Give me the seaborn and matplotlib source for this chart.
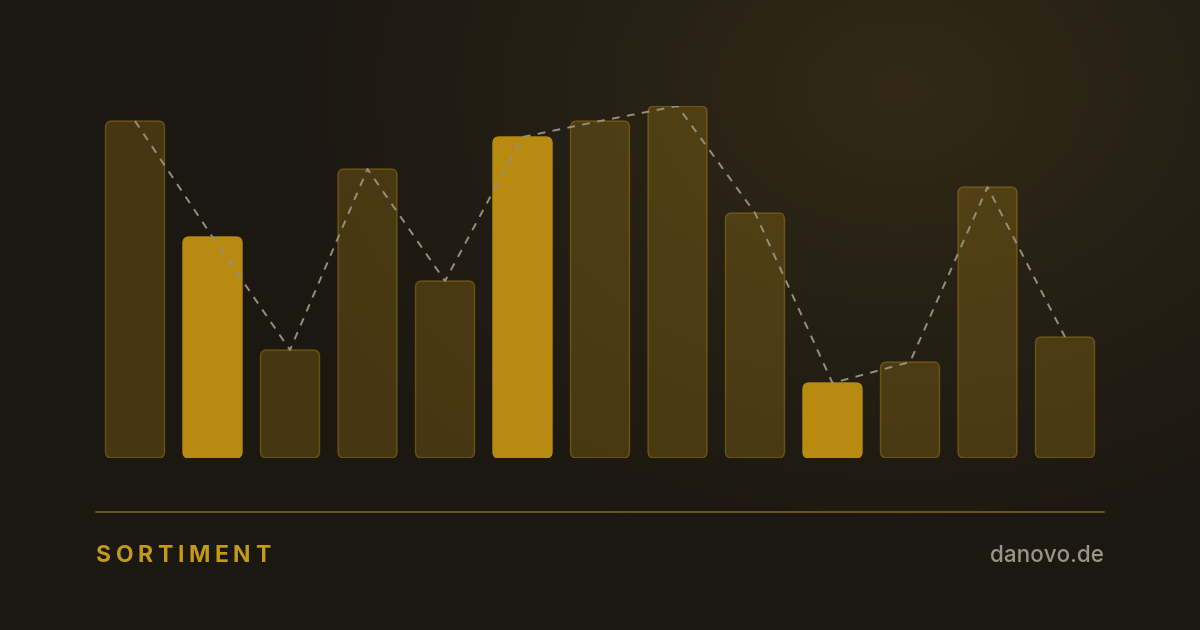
import numpy as np
import pandas as pd
import matplotlib
matplotlib.use("Agg")
import matplotlib.pyplot as plt
import seaborn as sns
from matplotlib.patches import FancyBboxPatch
from matplotlib.colors import to_rgba

# ---- data ----
categories = [f"K{i}" for i in range(1, 14)]
values = [337, 221, 108, 289, 177, 321, 337, 352, 245, 75, 96, 271, 121]
highlight = [False, True, False, False, False, True, False, False, False, True, False, False, False]
title_text = "SORTIMENT"
brand_text = "danovo.de"

W, H = 1200, 630
sns.set_theme(style="white")
plt.rcParams['font.family'] = ['Inter', 'DejaVu Sans']

fig = plt.figure(figsize=(W / 100, H / 100), dpi=100)

# ---- background gradient ----
bg = fig.add_axes([0, 0, 1, 1])
yy, xx = np.mgrid[0:H, 0:W]
c0 = np.array([0x1b, 0x18, 0x12]) / 255.0
c1 = np.array([0x32, 0x2a, 0x17]) / 255.0
d = np.sqrt(((xx - 900) / 700.0) ** 2 + ((yy - 90) / 520.0) ** 2)
t = np.clip(1 - d, 0, 1) ** 1.3
img = c0[None, None, :] * (1 - t[..., None]) + c1[None, None, :] * t[..., None]
bg.imshow(img, extent=[0, W, H, 0], aspect="auto")
bg.set_xlim(0, W)
bg.set_ylim(H, 0)
bg.axis("off")

# separator line and texts
bg.plot([96, 1104], [512, 512], color="#6e5a22", lw=1.3)

# letter-spaced title
renderer = fig.canvas.get_renderer()
xpos = 96.0
tracking = 4.6
for ch in title_text:
    tx = bg.text(xpos, 556, ch, color="#c49a1a", fontsize=16.5, fontweight="bold",
                 ha="left", va="center")
    bb = tx.get_window_extent(renderer=renderer)
    xpos += bb.width + tracking

bg.text(1104, 556, brand_text, color="#9b9586", fontsize=16.2, ha="right",
        va="center", fontweight="medium")

# ---- chart axes ----
n = len(values)
pitch = 77.5
left_px = 135 - pitch / 2
right_px = left_px + pitch * n
top_px, bot_px = 106, 458
ax = fig.add_axes([left_px / W, 1 - bot_px / H, (right_px - left_px) / W, (bot_px - top_px) / H])
ax.patch.set_alpha(0)

df = pd.DataFrame({"cat": categories, "val": values, "hl": highlight})
sns.barplot(data=df, x="cat", y="val", ax=ax, width=59 / pitch, color="#4a3a15")
ax.set_xlim(-0.5, n - 0.5)
ax.set_ylim(0, max(values))

# replace bars with rounded ones
for p, hl in zip(list(ax.patches), highlight):
    x, y = p.get_x(), p.get_y()
    w, h = p.get_width(), p.get_height()
    p.remove()
    if hl:
        fc, ec = to_rgba("#b88b10", 1.0), to_rgba("#b88b10", 1.0)
    else:
        fc, ec = to_rgba("#b98a14", 0.28), to_rgba("#b98a14", 0.42)
    rp = FancyBboxPatch((x, y), w, h,
                        boxstyle="round,pad=0,rounding_size=0.08",
                        mutation_aspect=max(values) / (bot_px - top_px) * pitch,
                        facecolor=fc, edgecolor=ec, lw=1.0, zorder=2)
    ax.add_patch(rp)

sns.lineplot(x=np.arange(n), y=values, ax=ax, color="#958f7c", lw=1.4,
             linestyle=(0, (4, 3.8)), zorder=3)

ax.axis("off")
fig.savefig("out.png", dpi=100)
